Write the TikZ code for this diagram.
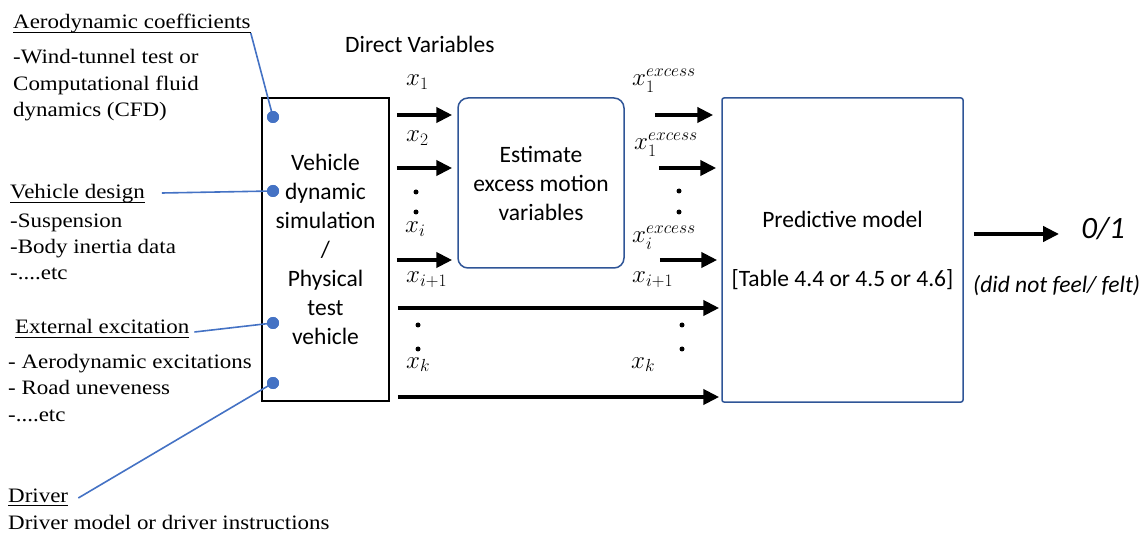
\RequirePackage{fix-cm}
\documentclass[tikz,border=0pt]{standalone}
\usepackage{fontspec}
\setmainfont{Liberation Serif}
\newfontfamily\cbri{Carlito}
\newfontfamily\cmb[FakeStretch=1.12]{Liberation Serif}
\usetikzlibrary{arrows.meta}
\definecolor{lineblue}{HTML}{4472C4}
\definecolor{boxblue}{HTML}{2F5597}
\begin{document}
\begin{tikzpicture}[x=1pt,y=-1pt,
  serif/.style={font=\cmb\fontsize{20.5}{26}\selectfont, inner sep=0pt, anchor=base west},
  sans/.style={font=\cbri\fontsize{23.5}{29}\selectfont},
  lbl/.style={font=\fontsize{25}{30}\selectfont, inner sep=0pt, anchor=base west},
  bigarrow/.style={line width=4pt, -{Triangle[length=16pt,width=15pt]}},
  conn/.style={lineblue, line width=1.6pt},
  bluedot/.style={circle, fill=lineblue, inner sep=0pt, minimum size=12pt},
  vdot/.style={circle, fill=black, inner sep=0pt, minimum size=5pt},
  ulline/.style={line width=0.8pt}
]
\useasboundingbox (0,0) rectangle (1148,534);

% main boxes
\node[draw, line width=1.5pt, minimum width=127pt, minimum height=303pt, sans, align=center, inner sep=0pt] (sim) at (325.5,249.5)
  {Vehicle\\dynamic\\simulation\\/\\Physical\\test\\vehicle};
\node[draw=boxblue, line width=1.5pt, rounded corners=10pt, minimum width=166pt, minimum height=170pt, sans, align=center] (est) at (541,183)
  {Estimate\\excess motion\\variables};
\node[draw=boxblue, line width=1.5pt, rounded corners=2pt, minimum width=241pt, minimum height=304pt, sans, align=center] (pred) at (842.5,250)
  {Predictive model\\[30pt]{[Table 4.4 or 4.5 or 4.6]}};

% header
\node[sans, inner sep=0pt, anchor=base west] (dv) at (345,53) {Direct Variables};

% left texts
\node[serif] (aero) at (13,29) {Aerodynamic coefficients};
\node[serif] (aero1) at (13,64) {-Wind-tunnel test or};
\node[serif] (aero2) at (13,90.5) {Computational fluid};
\node[serif] (aero3) at (13,117) {dynamics (CFD)};
\node[serif] (vdes) at (10,199) {Vehicle design};
\node[serif] (vdes1) at (10,228) {-Suspension};
\node[serif] (vdes2) at (10,254) {-Body inertia data};
\node[serif] (vdes3) at (10,280) {-....etc};
\node[serif] (ext) at (15,334) {External excitation};
\node[serif] (ext1) at (8,369) {- Aerodynamic excitations};
\node[serif] (ext2) at (8,394) {- Road uneveness};
\node[serif] (ext3) at (8,421) {-....etc};
\node[serif] (drv) at (8,502) {Driver};
\node[serif] (drv1) at (8,529) {Driver model or driver instructions};

\foreach \n in {aero,vdes,ext,drv}
  \draw[ulline] ([yshift=-3pt]\n.base west) -- ([yshift=-3pt]\n.base east);

% blue dots and connectors
\node[bluedot] (d1) at (273,117) {};
\node[bluedot] (d2) at (273,191) {};
\node[bluedot] (d3) at (273,323) {};
\node[bluedot] (d4) at (273,383) {};
\draw[conn] ([xshift=0pt,yshift=-4pt]aero.base east) -- (d1.center);
\draw[conn] ([xshift=17pt,yshift=6pt]vdes.base east) -- (d2.center);
\draw[conn] ([xshift=5pt,yshift=2pt]ext.base east) -- (d3.center);
\draw[conn] ([xshift=10pt,yshift=4pt]drv.base east) -- (d4.center);
\node[bluedot] at (d1) {};
\node[bluedot] at (d2) {};
\node[bluedot] at (d3) {};
\node[bluedot] at (d4) {};

% rows
\coordinate (r0) at (0,234);
\coordinate (r1) at (0,115);
\coordinate (r2) at (0,168);
\coordinate (r3) at (0,260);
\coordinate (r4) at (0,308);
\coordinate (r5) at (0,397);

\draw[bigarrow] ([xshift=7pt]sim.east|-r1) -- ([xshift=-5pt]est.west|-r1);
\draw[bigarrow] ([xshift=7pt]sim.east|-r2) -- ([xshift=-5pt]est.west|-r2);
\draw[bigarrow] ([xshift=7pt]sim.east|-r3) -- ([xshift=-5pt]est.west|-r3);
\draw[bigarrow] ([xshift=30pt]est.east|-r1) -- ([xshift=-8pt]pred.west|-r1);
\draw[bigarrow] ([xshift=34pt]est.east|-r2) -- ([xshift=-5pt]pred.west|-r2);
\draw[bigarrow] ([xshift=35pt]est.east|-r3) -- ([xshift=-4pt]pred.west|-r3);
\draw[bigarrow] ([xshift=8pt]sim.east|-r4) -- ([xshift=-2pt]pred.west|-r4);
\draw[bigarrow] ([xshift=8pt]sim.east|-r5) -- ([xshift=-2pt]pred.west|-r5);

% output
\node[font=\cbri\itshape\fontsize{31}{36}\selectfont, inner sep=0pt] (out) at (1103,229) {0/1};
\node[font=\cbri\itshape\fontsize{23.5}{28}\selectfont, inner sep=0pt, anchor=west] (felt) at (973,286) {(did not feel/ felt)};
\draw[bigarrow] ([xshift=10pt]pred.east|-r0) -- ([xshift=-22pt]out.west|-r0);

% variable labels
\node[lbl] (xa1) at (406,86) {$x_1$};
\node[lbl] (xa2) at (406,142) {$x_2$};
\node[lbl] (xai) at (405,233) {$x_i$};
\node[lbl] (xai1) at (406,283) {$x_{i+1}$};
\node[lbl] (xak) at (406,368) {$x_k$};
\node[lbl] (xb1) at (632,86) {$x_1^{excess}$};
\node[lbl] (xb2) at (634,150) {$x_1^{excess}$};
\node[lbl] (xbi) at (632,243) {$x_i^{excess}$};
\node[lbl] (xbi1) at (632,283) {$x_{i+1}$};
\node[lbl] (xbk) at (631,368) {$x_k$};

% ellipsis dots
\node[vdot] (v1) at (416,192) {};
\node[vdot] (v2) at (416,212) {};
\node[vdot] (v3) at (679,191) {};
\node[vdot] (v4) at (679,212) {};
\node[vdot] (v5) at (418,325) {};
\node[vdot] (v6) at (418,349) {};
\node[vdot] (v7) at (682,325) {};
\node[vdot] (v8) at (682,349) {};
\end{tikzpicture}
\end{document}
